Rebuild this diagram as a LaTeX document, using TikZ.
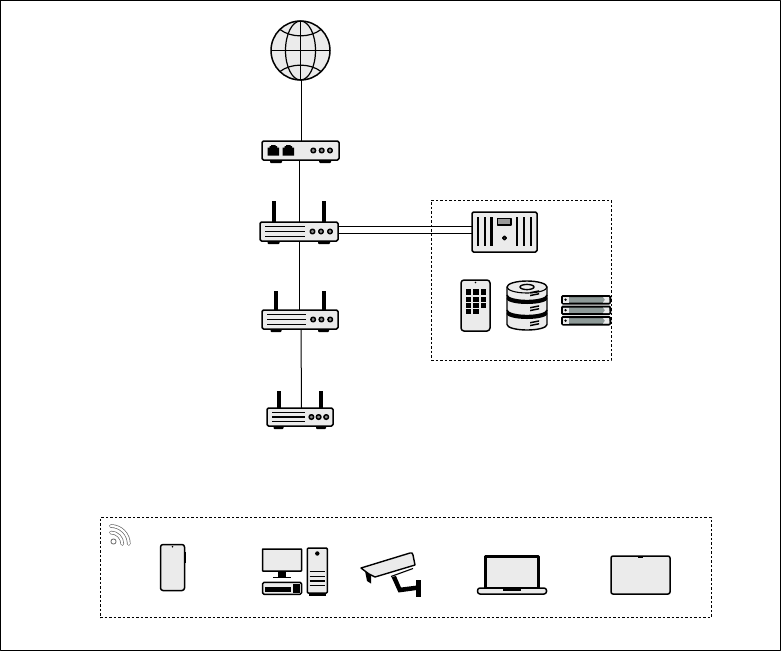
\documentclass[tikz,border=0pt]{standalone}
\usetikzlibrary{calc}
\definecolor{ifill}{HTML}{EBEBEB}
\definecolor{knob}{HTML}{8C8C8C}
\definecolor{rackgrey}{HTML}{8E9A98}
\tikzset{
  x=1pt,y=-1pt,
  every picture/.style={line join=round},
  ink/.style={draw=black,line width=1.4pt},
  box/.style={draw=black,line width=1.5pt,fill=ifill,rounded corners=1.5pt,inner sep=0pt,minimum width=#1},
  wire/.style={draw=black,line width=1pt},
  group/.style={draw=black,line width=0.8pt,dash pattern=on 2.5pt off 2pt},
  knobdot/.style={draw=black,line width=1.5pt,fill=knob},
}
% router: name, left, top, right, bottom, ant1, ant2, anttop, foot half-width
\newcommand{\routerdev}[9]{%
  \fill (#6-2,#8) rectangle (#6+2,#3);
  \fill (#7-2,#8) rectangle (#7+2,#3);
  \fill[rounded corners=1pt] (#6-#9,#5-1) rectangle (#6+#9,#5+3);
  \fill[rounded corners=1pt] (#7-#9,#5-1) rectangle (#7+#9,#5+3);
  \node[box=#4pt-#2pt,minimum height=#5pt-#3pt] (#1) at ({(#2+#4)/2},{(#3+#5)/2}) {};
  \foreach \yy in {-4.8,0,4.8}
    \draw[line width=1.3pt] (#2+5,{(#3+#5)/2+\yy}) -- ({#2+(#4-#2)*0.58},{(#3+#5)/2+\yy});
  \foreach \xx in {8,17,25.5}
    \draw[knobdot] ({#4-\xx*(#4-#2)/78},{(#3+#5)/2}) circle (2.3);
}
\begin{document}
\begin{tikzpicture}
\useasboundingbox (0,0) rectangle (781,651);
\draw[black,line width=1pt] (0.5,0.5) rectangle (780.5,650.5);

% groups
\node[group,minimum width=180pt,minimum height=160pt,inner sep=0pt] (grpA) at (521,280) {};
\node[group,minimum width=611pt,minimum height=100pt,inner sep=0pt] (grpB) at (405.5,567.5) {};

% globe
\node[circle,draw=black,line width=1.5pt,fill=ifill,minimum size=59pt,inner sep=0pt] (globe) at (300.5,50.5) {};
\begin{scope}[line width=1.2pt]
  \draw (300.5,21) -- (300.5,80);
  \draw (271,50.5) -- (330,50.5);
  \draw (300.5,50.5) ellipse (15 and 29.5);
  \draw (280,29.5) .. controls (291,38) and (310,38) .. (321,29.5);
  \draw (280,71.5) .. controls (291,63) and (310,63) .. (321,71.5);
\end{scope}

% modem
\fill[rounded corners=1pt] (270,159) rectangle (282,163);
\fill[rounded corners=1pt] (319,159) rectangle (331,163);
\node[box=77pt,minimum height=19pt] (modem) at (300.5,150.5) {};
\foreach \px in {267.5,282.5}{
  \fill (\px,147.5) -- (\px+2,147.5) -- (\px+2,146) -- (\px+3.5,146) -- (\px+3.5,145) -- (\px+8,145) -- (\px+8,146) -- (\px+9.5,146) -- (\px+9.5,147.5) -- (\px+11.5,147.5) -- (\px+11.5,155.5) -- (\px,155.5) -- cycle;
}
\foreach \px in {313.3,321.7,330}
  \draw[knobdot] (\px,150.5) circle (2.3);

% routers
\routerdev{rA}{260}{222}{338}{241}{273.5}{324}{201}{6}
\routerdev{rB}{262}{310}{338}{329}{276}{323.5}{291}{5.5}
\routerdev{rC}{267}{408}{333}{426}{278.5}{321}{391}{5}

% panel
\node[box=65pt,minimum height=40pt] (panel) at (504.5,232) {};
\foreach \px in {478,485,491.5,517,524,531}
  \fill (\px-1.2,217) rectangle (\px+1.2,246);
\draw[line width=1.2pt,fill=ifill!65!black] (497.5,218.5) rectangle (511,225);
\draw[knobdot] (504.5,238) circle (1.8);

% remote
\node[box=29pt,minimum height=51pt,rounded corners=3pt] (remote) at (475.5,305.5) {};
\fill (475.5,282.5) circle (0.8);
\foreach \py/\cols in {289.3/3,296.5/3,302.7/3,309/2}
  \foreach \c in {1,...,\cols}
    \fill ({465.7+(\c-1)*7.6},\py) rectangle ++(5.4,5.3);

% database
\node[inner sep=0pt,minimum width=40pt,minimum height=50pt] (db) at (527,305.5) {};
\begin{scope}[line width=1.4pt]
  \draw[fill=ifill] (507,314) -- (507,324.5) arc[start angle=180,end angle=0,x radius=20,y radius=5.5] -- (547,314) -- cycle;
  \fill (506.3,310) -- (506.3,313.5) arc[start angle=180,end angle=0,x radius=20.7,y radius=5.5] -- (547.7,310) -- cycle;
  \draw[fill=ifill] (507,299) -- (507,310) arc[start angle=180,end angle=0,x radius=20,y radius=5.5] -- (547,299) -- cycle;
  \fill (506.3,295) -- (506.3,298.5) arc[start angle=180,end angle=0,x radius=20.7,y radius=5.5] -- (547.7,295) -- cycle;
  \draw[fill=ifill] (507,287) -- (507,295) arc[start angle=180,end angle=0,x radius=20,y radius=5.5] -- (547,287) arc[start angle=0,end angle=-180,x radius=20,y radius=6] -- cycle;
  \draw[line width=1.1pt] (507,287) arc[start angle=180,end angle=0,x radius=20,y radius=6];
  \draw (527,287) ellipse (7 and 2.6);
\end{scope}
\foreach \py in {292,307,322}{
  \fill (530,\py) -- (539,\py-1.8) -- (539,\py-0.3) -- (530,\py+1.5) -- cycle;
  \fill (530,\py+2.8) -- (539,\py+1) -- (539,\py+2.5) -- (530,\py+4.3) -- cycle;
}

% rack
\node[inner sep=0pt,minimum width=50pt,minimum height=30pt] (rack) at (586,310.5) {};
\foreach \py in {296,306.5,317}{
  \draw[line width=2pt,rounded corners=1pt,fill=rackgrey] (562,\py) -- (610,\py) -- (610.5,\py+3.7) -- (610,\py+7.5) -- (562,\py+7.5) -- cycle;
  \fill[ifill] (563,\py+1) rectangle (569,\py+6.5);
  \fill[ifill] (603,\py+1) -- (609,\py+1) -- (609.4,\py+6.5) -- (603,\py+6.5) -- (605,\py+3.7) -- cycle;
  \fill (565.5,\py+3.7) circle (1.3);
}

% connectors
\coordinate (gB) at (301,80);
\coordinate (mT) at (301,141);
\draw[wire] (gB) -- (mT);
\coordinate (mB) at (299.5,160);
\coordinate (aT) at (299.5,222);
\coordinate (aB) at (299.5,241);
\coordinate (bT) at (299.5,310);
\coordinate (bB) at (301,329);
\coordinate (cT) at (301.5,408);
\draw[wire] (mB) -- (aT);
\draw[wire] (aB) -- (bT);
\draw[wire] (bB) -- (cT);
\coordinate (aR1) at (338,226);
\coordinate (aR2) at (338,233);
\coordinate (pL1) at (472,226);
\coordinate (pL2) at (472,233);
\draw[wire] (aR1) -- (pL1);
\draw[wire] (aR2) -- (pL2);

% wifi
\node[inner sep=0pt,minimum width=21pt,minimum height=20pt] (wifi) at (120.5,535) {};
\draw[black!60,line width=0.8pt] (113.5,541.5) circle (2.6);
\foreach \r in {18,11.5}{
  \draw[black!60,line width=3.6pt,line cap=round] (110.8,{544-\r}) arc[start angle=-90,end angle=0,radius=\r];
  \draw[white,line width=2.2pt,line cap=round] (110.8,{544-\r}) arc[start angle=-90,end angle=0,radius=\r];
}

% phone
\node[box=24pt,minimum height=46pt,rounded corners=2.5pt] (phone) at (172.5,567.5) {};
\fill (172.5,546.7) circle (0.9);
\fill (184.3,552) rectangle (185.6,563);

% desktop
\node[box=39pt,minimum height=22pt,rounded corners=0.5pt] (monitor) at (282,560) {};
\fill (278,571) rectangle (286,576.7);
\fill (273,576.5) rectangle (291,578.2);
\node[box=39pt,minimum height=12pt] (keyb) at (282,588.3) {};
\fill (264.7,586.7) rectangle (291.3,592.3);
\fill (293,584.3) rectangle (299.7,592.7);
\node[box=20pt,minimum height=45pt,rounded corners=1pt] (tower) at (317.3,570.5) {};
\fill (317.3,553.5) circle (2.2);
\foreach \py in {571.7,576.7,581,585.7}
  \draw[line width=1.2pt] (309.7,\py) -- (324.7,\py);
\fill (309,592.5) rectangle (326,595.5);

% camera
\node[inner sep=0pt,minimum width=62pt,minimum height=46pt] (camera) at (391,575) {};
\fill (391.5,577) -- (396,576) -- (401,587.5) -- (417,585.5) -- (417,590) -- (398.5,592.5) -- cycle;
\fill (416,580) rectangle (421,597);
\fill (365,571) -- (367,581) -- (371,583.5) -- (371,574) -- cycle;
\draw[ink,fill=ifill] (361,568) -- (410,553) .. controls (412,552.5) and (412.5,553) .. (413,555) -- (415,565) -- (375,577) -- (369,574) -- cycle;
\draw[line width=1.1pt] (391,576.5) -- (413,568.5);

% laptop
\node[box=69pt,minimum height=6pt,rounded corners=2.5pt] (lapbase) at (512,591) {};
\draw[line width=2.6pt,fill=ifill] (485.3,556.3) rectangle (538.7,588);
\fill (503,588) rectangle (520.5,590.7);

% tablet
\node[box=59pt,minimum height=38pt,rounded corners=2pt] (tablet) at (640.5,575) {};
\fill (638,555.5) rectangle (643,557.5);
\end{tikzpicture}
\end{document}
